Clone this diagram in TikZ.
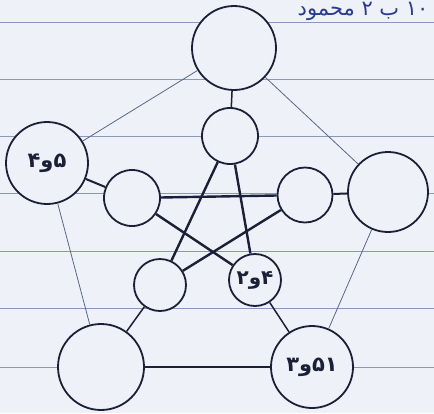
\documentclass[tikz,border=0pt]{standalone}
\usepackage{fontspec}
\newfontfamily\arabicfont[Script=Arabic]{DejaVu Sans}
\TeXXeTstate=1
\definecolor{paper}{HTML}{EEF2F8}
\definecolor{ruleblue}{HTML}{8A98BC}
\definecolor{ink}{HTML}{1C2036}
\definecolor{pencil}{HTML}{5A6688}
\definecolor{blueink}{HTML}{2A3A8C}
\tikzset{
  vtx/.style={circle, draw=ink, line width=1.8pt, inner sep=0pt},
  ruled/.style={draw=ruleblue, line width=0.9pt},
  outeredge/.style={draw=pencil, line width=0.8pt},
  spoke/.style={draw=ink, line width=1.5pt},
  starline/.style={draw=ink, line width=2.4pt},
  lbl/.style={font=\arabicfont\bfseries\fontsize{21}{21}\selectfont, text=ink},
}
\begin{document}
\begin{tikzpicture}[x=1pt,y=-1pt]
\fill[paper] (0,0) rectangle (434,413);
\useasboundingbox (0,0) rectangle (434,413);
\foreach \yy in {22,79,136,193,251,308,367}
  \draw[ruled] (0,\yy) -- (434,\yy);
% outer vertices
\node[vtx, minimum size=84pt, fill=paper] (T)  at (234,48) {};
\node[vtx, minimum size=82pt, fill=paper] (L)  at (47,163) {};
\node[vtx, minimum size=80pt, fill=paper] (R)  at (388,192) {};
\node[vtx, minimum size=86pt, fill=paper] (BL) at (101,367) {};
\node[vtx, minimum size=82pt, fill=paper] (BR) at (312,367) {};
% inner vertices
\node[vtx, minimum size=56pt, fill=paper] (iT)  at (230,136) {};
\node[vtx, minimum size=56pt, fill=paper] (iL)  at (132,198) {};
\node[vtx, minimum size=55pt, fill=paper] (iR)  at (305,195) {};
\node[vtx, minimum size=52pt, fill=paper] (iBL) at (160,285) {};
\node[vtx, minimum size=52pt, fill=paper] (iBR) at (255,280) {};
% labels
\node[lbl] (lL) at (L) {\beginR ۵و۴\endR};
\node[lbl, font=\arabicfont\bfseries\fontsize{20}{20}\selectfont] (liBR) at (iBR) {\beginR ۴و۲\endR};
\node[lbl] (lBR) at (BR) {\beginR ۵۱و۳\endR};
% outer cycle
\draw[outeredge] (T) -- (L);
\draw[outeredge] (T) -- (R);
\draw[outeredge] (L) -- (BL);
\draw[outeredge] (R) -- (BR);
\draw[spoke, line width=1.2pt] (BL) -- (BR);
% spokes
\draw[spoke] (T) -- (iT);
\draw[spoke, line width=2pt] (L) -- (iL);
\draw[spoke, line width=2pt] (R) -- (iR);
\draw[spoke] (BL) -- (iBL);
\draw[spoke] (BR) -- (iBR);
% inner star
\draw[starline] (iT) -- (iBL);
\draw[starline] (iT) -- (iBR);
\draw[starline] (iL) -- (iR);
\draw[starline] (iL) -- (iBR);
\draw[starline] (iR) -- (iBL);
% heading
\node[anchor=east, text=blueink, font=\arabicfont\fontsize{21}{21}\selectfont] (head) at (432,11) {\beginR ۱۰ ب ۲ محمود\endR};
\end{tikzpicture}
\end{document}
